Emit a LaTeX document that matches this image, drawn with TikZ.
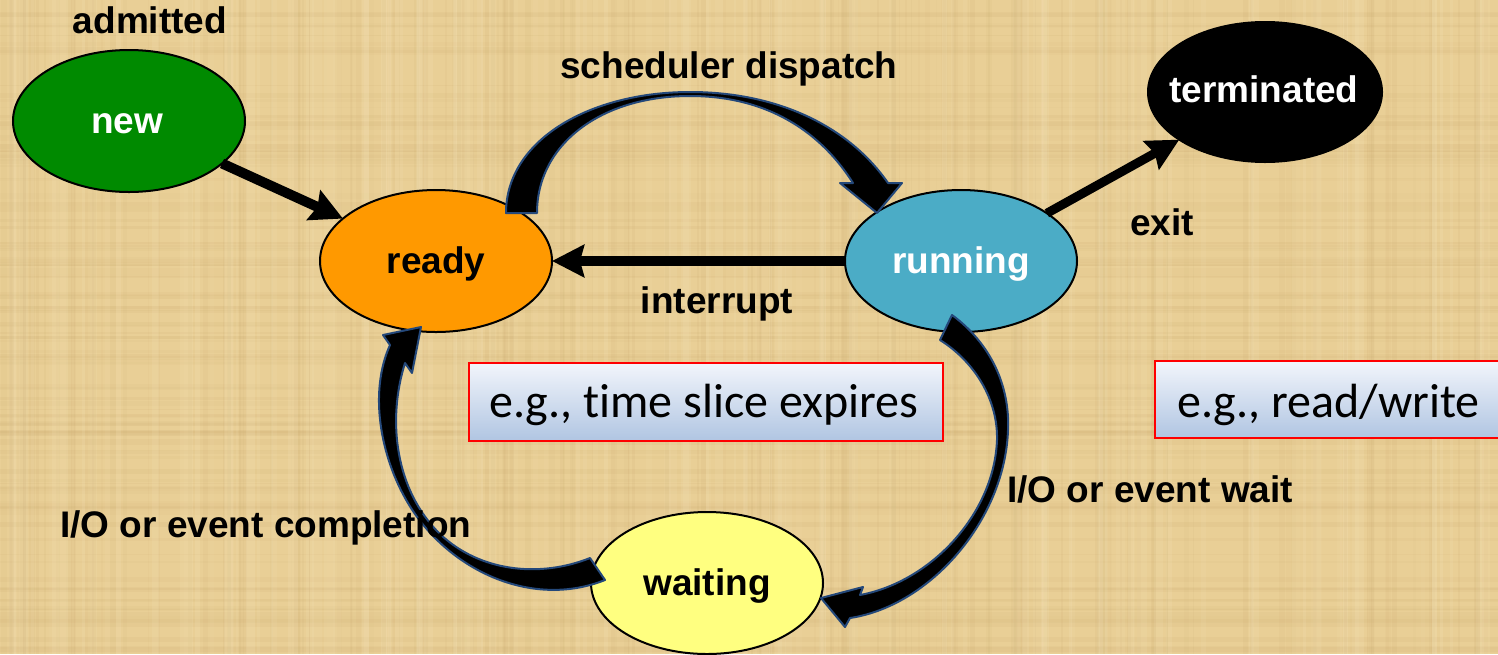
\documentclass[tikz,border=0pt]{standalone}
\usepackage{fontspec}
\setmainfont{Liberation Sans}
\newfontfamily\notefont[Ligatures=NoCommon]{Carlito}
\usetikzlibrary{arrows.meta,shapes.geometric}

\definecolor{paper}{RGB}{233,207,150}
\definecolor{grainDark}{RGB}{190,155,95}
\definecolor{grainLight}{RGB}{250,236,200}
\definecolor{newgreen}{RGB}{0,138,0}
\definecolor{readyorange}{RGB}{255,153,0}
\definecolor{runblue}{RGB}{75,172,198}
\definecolor{waityellow}{RGB}{255,255,128}
\definecolor{arrowblue}{RGB}{36,72,122}
\definecolor{notetop}{RGB}{242,245,251}
\definecolor{notebot}{RGB}{176,197,226}

\begin{document}
\begin{tikzpicture}[x=1pt,y=-1pt,
  state/.style={ellipse, draw=black, line width=2pt, inner sep=0pt, outer sep=0pt,
                minimum width=232pt, minimum height=142pt},
  lbl/.style={font=\fontsize{37}{44}\selectfont\bfseries, inner sep=0pt, anchor=base},
  fat/.style={line width=10pt, -{Stealth[length=32pt,width=32pt,inset=4pt]}},
  bent/.style={fill=black, draw=arrowblue, line width=2pt, line join=round},
  note/.style={draw=red, line width=2.5pt, top color=notetop, bottom color=notebot,
               inner sep=0pt, outer sep=0pt},
  notetext/.style={font=\notefont\fontsize{48}{56}\selectfont, inner sep=0pt, anchor=base}
]
\clip (0,0) rectangle (1498,654);

% papyrus background
\fill[paper] (0,0) rectangle (1498,654);
\pgfmathsetseed{11}
\foreach \k in {1,...,170}{
  \pgfmathsetmacro{\px}{1498*rnd}
  \pgfmathsetmacro{\pw}{1+5*rnd}
  \pgfmathsetmacro{\po}{0.03+0.07*rnd}
  \fill[grainDark, opacity=\po] (\px,0) rectangle ++(\pw,654);
}
\foreach \k in {1,...,120}{
  \pgfmathsetmacro{\py}{654*rnd}
  \pgfmathsetmacro{\ph}{1+5*rnd}
  \pgfmathsetmacro{\po}{0.03+0.07*rnd}
  \fill[grainDark, opacity=\po] (0,\py) rectangle ++(1498,\ph);
}
\foreach \k in {1,...,120}{
  \pgfmathsetmacro{\px}{1498*rnd}
  \pgfmathsetmacro{\pw}{2+8*rnd}
  \pgfmathsetmacro{\po}{0.05+0.10*rnd}
  \fill[grainLight, opacity=\po] (\px,0) rectangle ++(\pw,654);
}

% states
\node[state, fill=newgreen]    (new)   at (129,121) {};
\node[state, fill=readyorange] (ready) at (436,261) {};
\node[state, fill=runblue]     (run)   at (961,261) {};
\node[state, fill=black, minimum width=234pt, minimum height=140pt] (term) at (1265,92) {};
\node[state, fill=waityellow]  (wait)  at (707,583) {};

% straight transitions
\draw[fat] (new) -- (ready);
\draw[fat] (run) -- (ready);
\draw[fat, line width=9pt] (run) -- (term);

% scheduler dispatch: ready -> running
\filldraw[bent]
  (506,213) .. controls (506,140) and (590,92) .. (690,92)
            .. controls (780,92) and (850,128) .. (888,183)
  -- (902,183) -- (877,213) -- (840,183) -- (853,183)
            .. controls (822,134) and (770,96) .. (690,96)
            .. controls (600,96) and (537,145) .. (537,213)
  -- cycle;

% I/O or event wait: running -> waiting
\filldraw[bent]
  (952,315) .. controls (990,343) and (1010,385) .. (1008,430)
            .. controls (1005,520) and (930,606) .. (850,618)
  -- (845,627) -- (821,598) -- (863,587) -- (860,595)
            .. controls (930,582) and (994,515) .. (997,440)
            .. controls (998,400) and (975,362) .. (940,340)
  -- cycle;

% I/O or event completion: waiting -> ready
\filldraw[bent]
  (605,580) .. controls (540,606) and (468,578) .. (425,527)
            .. controls (385,480) and (365,400) .. (390,345)
  -- (383,335) -- (421,327) -- (412,373) -- (405,363)
            .. controls (387,420) and (395,490) .. (440,534)
            .. controls (480,572) and (540,578) .. (590,558)
  -- cycle;

% state names
\node[lbl, white] (newtxt)   at (127,133) {new};
\node[lbl]        (readytxt) at (436,273) {ready};
\node[lbl, white] (runtxt)   at (961,273) {running};
\node[lbl, white] (termtxt)  at (1264,102) {terminated};
\node[lbl]        (waittxt)  at (707,595) {waiting};

% transition labels
\node[lbl] (admitted)  at (150,33)  {admitted};
\node[lbl] (dispatch)  at (729,78)  {scheduler dispatch};
\node[lbl] (interrupt) at (717,313) {interrupt};
\node[lbl] (exit)      at (1162,235) {exit};
\node[lbl, anchor=base west] (iowait) at (1007,502) {I/O or event wait};
\node[lbl, anchor=base west] (iodone) at (60,537)   {I/O or event completion};

% example notes
\node[note, minimum width=474pt, minimum height=78pt] (slicebox) at (706,402) {};
\node[notetext] (slicetxt) at (704,417) {e.g., time slice expires};
\node[note, minimum width=365pt, minimum height=77pt] (rwbox) at (1337.5,399.5) {};
\node[notetext, anchor=base west] (rwtxt) at (1177,417) {e.g., read/write};
\end{tikzpicture}
\end{document}
